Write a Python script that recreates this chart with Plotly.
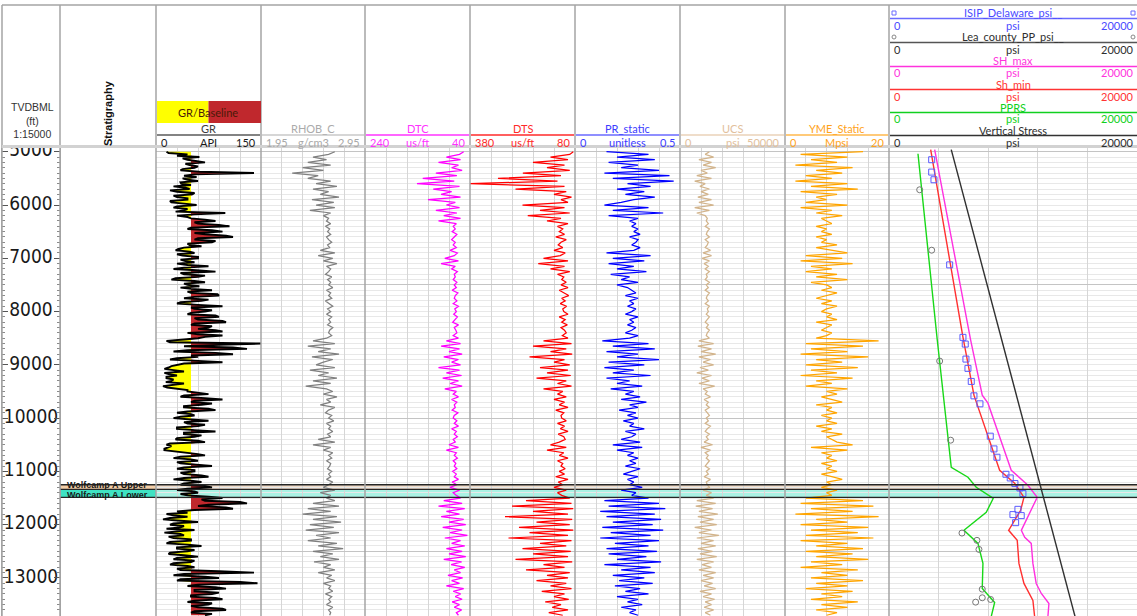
import plotly.graph_objects as go

W, H = 1137, 616
HEADER_BOTTOM = 148
DEPTH_RANGE = [13714, 4930]

# ---------------------------------------------------------------- log data
# sample depths of the log curves (ft, TVD below mean sea level)
depth = list(range(5000, 13701, 50))
# GR is carried at a finer step
depth_gr = list(range(5000, 13701, 25))

gr = [15, 18, 45, 30, 62, 38, 45, 58, 70, 42, 48, 60, 55, 38, 35, 62, 140, 55, 40, 58,
      38, 45, 60, 35, 36, 50, 25, 42, 48, 20, 30, 55, 52, 25, 30, 45, 45, 20, 22, 40,
      58, 30, 25, 45, 40, 28, 99, 55, 30, 45, 50, 70, 85, 55, 60, 90, 105, 50, 45, 80,
      95, 55, 70, 100, 110, 60, 55, 85, 80, 45, 48, 65, 40, 32, 28, 48, 55, 30, 38, 60,
      60, 35, 42, 55, 30, 45, 75, 40, 25, 58, 85, 35, 40, 70, 60, 28, 22, 55, 70, 40,
      45, 62, 35, 50, 80, 45, 50, 88, 90, 55, 40, 75, 65, 35, 30, 60, 95, 50, 55, 80,
      70, 50, 45, 85, 90, 55, 60, 95, 100, 55, 50, 80, 75, 60, 85, 95, 45, 60, 95, 70,
      60, 40, 15, 20, 150, 90, 40, 110, 130, 45, 25, 85, 110, 50, 60, 30, 20, 60, 95, 40,
      30, 22, 18, 12, 25, 40, 12, 18, 30, 15, 15, 25, 22, 14, 40, 20, 10, 16, 28, 45,
      45, 60, 75, 40, 35, 70, 95, 55, 50, 80, 65, 40, 40, 75, 85, 45, 30, 50, 55, 35,
      25, 50, 75, 40, 45, 70, 60, 30, 30, 55, 85, 40, 40, 65, 55, 30, 28, 60, 70, 20,
      15, 22, 18, 12, 12, 30, 45, 60, 70, 35, 25, 50, 60, 30, 35, 65, 80, 40, 30, 55,
      55, 35, 40, 65, 75, 40, 25, 50, 65, 40, 35, 70, 80, 45, 30, 55, 60, 35, 45, 75,
      95, 65, 70, 120, 130, 75, 60, 100, 110, 55, 30, 45, 15, 25, 45, 20, 10, 35, 60, 25,
      20, 40, 35, 15, 55, 30, 12, 35, 40, 18, 25, 50, 50, 20, 15, 45, 65, 30, 30, 55,
      45, 20, 18, 40, 60, 30, 25, 55, 50, 25, 20, 45, 55, 30, 35, 90, 140, 40, 25, 70,
      90, 35, 30, 120, 145, 60, 45, 85, 100, 55, 55, 90, 80, 50, 50, 85, 95, 55, 45, 80,
      75, 50, 60, 95, 100, 55, 50, 80, 70]
GR_BASELINE = 50

rhob = [2.66, 2.60, 2.45, 2.58, 2.40, 2.62, 2.35, 2.55, 2.25, 2.50,
        2.40, 2.62, 2.48, 2.68, 2.45, 2.60, 2.52, 2.70, 2.44, 2.65,
        2.48, 2.66, 2.42, 2.62, 2.55, 2.60, 2.58, 2.62, 2.57, 2.61,
        2.59, 2.62, 2.58, 2.60, 2.63, 2.59, 2.61, 2.52, 2.66, 2.50,
        2.64, 2.55, 2.68, 2.58, 2.62, 2.60, 2.57, 2.63, 2.59, 2.62,
        2.60, 2.64, 2.58, 2.62, 2.60, 2.63, 2.57, 2.61, 2.64, 2.59,
        2.62, 2.58, 2.63, 2.60, 2.62, 2.59, 2.64, 2.61, 2.60, 2.63,
        2.58, 2.45, 2.66, 2.40, 2.62, 2.50, 2.70, 2.44, 2.64, 2.55,
        2.48, 2.66, 2.42, 2.60, 2.50, 2.68, 2.45, 2.62, 2.38, 2.58,
        2.64, 2.55, 2.68, 2.58, 2.62, 2.52, 2.66, 2.60, 2.57, 2.63,
        2.60, 2.65, 2.58, 2.62, 2.60, 2.64, 2.59, 2.62, 2.50, 2.66,
        2.45, 2.62, 2.55, 2.64, 2.60, 2.63, 2.58, 2.62, 2.61, 2.59,
        2.63, 2.60, 2.62, 2.58, 2.64, 2.60, 2.55, 2.66, 2.52, 2.62,
        2.58, 2.66, 2.45, 2.70, 2.40, 2.62, 2.35, 2.68, 2.45, 2.72,
        2.42, 2.65, 2.38, 2.70, 2.48, 2.62, 2.40, 2.68, 2.50, 2.74,
        2.45, 2.64, 2.52, 2.70, 2.46, 2.62, 2.55, 2.66, 2.50, 2.63,
        2.58, 2.66, 2.55, 2.62, 2.60, 2.64, 2.57, 2.63, 2.60, 2.62,
        2.58, 2.64, 2.60, 2.62, 2.61]

dtc = [52, 60, 85, 58, 100, 62, 75, 55, 105, 65,
       130, 70, 141, 60, 110, 75, 95, 58, 120, 68,
       85, 60, 105, 65, 90, 58, 100, 66, 72, 68,
       74, 65, 70, 75, 68, 72, 66, 78, 64, 70,
       88, 62, 95, 68, 75, 64, 70, 68, 72, 65,
       70, 66, 74, 63, 68, 70, 65, 72, 62, 69,
       66, 71, 64, 68, 73, 62, 70, 67, 65, 72,
       62, 85, 58, 95, 60, 80, 55, 90, 62, 75,
       58, 100, 60, 85, 56, 92, 62, 78, 55, 88,
       66, 72, 62, 75, 65, 70, 68, 74, 63, 70,
       72, 65, 70, 62, 75, 66, 70, 64, 72, 68,
       80, 62, 85, 66, 70, 64, 72, 67, 70, 65,
       73, 66, 70, 62, 74, 65, 78, 60, 72, 66,
       58, 90, 55, 100, 50, 85, 60, 95, 52, 80,
       48, 92, 55, 78, 45, 88, 58, 75, 50, 85,
       55, 80, 48, 90, 56, 76, 50, 70, 58, 82,
       54, 75, 60, 85, 52, 72, 58, 68, 55, 74,
       60, 70, 56, 66, 62]

dts = [85, 95, 150, 100, 200, 110, 160, 95, 229, 120,
       300, 130, 380, 110, 250, 105, 140, 90, 120, 100,
       230, 110, 180, 95, 215, 120, 160, 100, 130, 115,
       125, 110, 135, 105, 120, 128, 115, 140, 108, 122,
       170, 100, 185, 110, 150, 95, 130, 112, 118, 105,
       120, 100, 125, 110, 98, 118, 108, 122, 104, 115,
       112, 100, 125, 108, 118, 102, 120, 110, 105, 116,
       100, 170, 90, 200, 105, 150, 88, 210, 110, 140,
       95, 180, 100, 160, 92, 190, 105, 130, 90, 170,
       115, 130, 105, 140, 110, 125, 100, 135, 112, 120,
       118, 105, 130, 110, 122, 100, 128, 112, 108, 125,
       150, 105, 160, 112, 125, 100, 130, 115, 120, 108,
       125, 110, 135, 100, 128, 115, 140, 105, 130, 118,
       95, 220, 90, 260, 85, 200, 100, 280, 88, 190,
       95, 240, 85, 210, 100, 270, 90, 180, 105, 230,
       92, 200, 100, 250, 88, 170, 110, 220, 95, 160,
       100, 190, 105, 150, 90, 175, 110, 140, 98, 165,
       120, 145, 100, 155, 115]

pr_static = [0.15, 0.35, 0.20, 0.38, 0.16, 0.30, 0.22, 0.40, 0.14, 0.45,
             0.18, 0.47, 0.25, 0.36, 0.20, 0.33, 0.24, 0.38, 0.28, 0.22,
             0.14, 0.35, 0.18, 0.42, 0.16, 0.30, 0.26, 0.29, 0.27, 0.30,
             0.28, 0.31, 0.26, 0.30, 0.29, 0.27, 0.31, 0.28, 0.15, 0.36,
             0.18, 0.33, 0.16, 0.28, 0.20, 0.34, 0.17, 0.26, 0.22, 0.30,
             0.20, 0.25, 0.27, 0.29, 0.24, 0.30, 0.26, 0.28, 0.25, 0.29,
             0.27, 0.24, 0.30, 0.26, 0.28, 0.25, 0.29, 0.27, 0.24, 0.30,
             0.26, 0.13, 0.35, 0.18, 0.38, 0.15, 0.30, 0.20, 0.40, 0.16,
             0.33, 0.14, 0.28, 0.18, 0.36, 0.15, 0.26, 0.20, 0.32, 0.17,
             0.28, 0.24, 0.31, 0.22, 0.34, 0.26, 0.30, 0.21, 0.29, 0.25,
             0.30, 0.23, 0.28, 0.26, 0.33, 0.24, 0.29, 0.27, 0.22, 0.31,
             0.18, 0.32, 0.20, 0.28, 0.25, 0.30, 0.26, 0.29, 0.24, 0.31,
             0.27, 0.23, 0.30, 0.25, 0.28, 0.26, 0.32, 0.22, 0.29, 0.27,
             0.35, 0.14, 0.40, 0.16, 0.43, 0.12, 0.38, 0.15, 0.41, 0.18,
             0.37, 0.13, 0.42, 0.17, 0.36, 0.12, 0.40, 0.19, 0.35, 0.15,
             0.39, 0.16, 0.34, 0.20, 0.41, 0.14, 0.36, 0.22, 0.38, 0.18,
             0.33, 0.21, 0.37, 0.19, 0.31, 0.24, 0.35, 0.20, 0.30, 0.25,
             0.32, 0.22, 0.29, 0.26, 0.30]

ucs = [14000, 12000, 16000, 9000, 15000, 11000, 17000, 10000, 13000, 8000,
       15000, 7000, 12000, 9500, 14000, 10000, 13500, 8500, 15000, 9000,
       16000, 7000, 14000, 8000, 12000, 13000, 12500, 13500, 12000, 14000,
       13000, 12500, 14000, 12000, 13500, 13000, 12000, 14500, 11000, 15000,
       10500, 14000, 11500, 13500, 12000, 14000, 12500, 13000, 12000, 14000,
       12500, 13500, 12000, 14000, 13000, 12500, 13500, 12000, 14000, 13000,
       13500, 12500, 14000, 13000, 12000, 13500, 12500, 14000, 13000, 12500,
       14000, 9000, 16000, 8500, 15000, 10000, 17000, 9000, 14500, 11000,
       16000, 9500, 13500, 8000, 15000, 10500, 14000, 9000, 16500, 11000,
       13000, 12000, 14500, 11500, 13500, 12500, 14000, 12000, 13000, 14000,
       12500, 13500, 12000, 14500, 13000, 12000, 14000, 12500, 13500, 11500,
       15500, 10000, 14500, 12000, 13500, 12500, 14000, 13000, 12000, 14000,
       12500, 13500, 11500, 14500, 12500, 13000, 14000, 11000, 15000, 12500,
       16000, 8000, 17000, 7500, 15500, 9000, 18000, 8500, 16000, 9500,
       17500, 7000, 15000, 9000, 18500, 8000, 16000, 10000, 17000, 8500,
       15500, 9500, 17500, 8000, 16000, 10500, 15000, 9000, 17000, 11000,
       16000, 10000, 15500, 11500, 17000, 9500, 15000, 11000, 16500, 12000,
       15000, 11500, 16000, 12000, 14500]

yme_static = [15, 3, 12, 5, 10, 2, 13, 6, 11, 4,
              9, 2, 12, 5, 14, 3, 10, 6, 8, 4,
              12, 3, 9, 6, 11, 7, 8, 9, 6, 8,
              7, 9, 6, 8, 7, 10, 6, 9, 12, 4,
              11, 3, 13, 5, 9, 4, 10, 6, 12, 5,
              8, 9, 7, 10, 8, 6, 9, 7, 10, 8,
              7, 9, 8, 10, 6, 9, 8, 7, 9, 8,
              6, 18, 4, 15, 5, 12, 3, 16, 6, 11,
              4, 14, 5, 10, 3, 13, 6, 9, 4, 12,
              8, 10, 7, 9, 11, 6, 9, 8, 10, 7,
              9, 8, 10, 6, 9, 7, 11, 8, 9, 10,
              13, 5, 12, 7, 9, 8, 10, 7, 9, 8,
              10, 7, 9, 11, 8, 9, 7, 10, 8, 9,
              4, 15, 3, 17, 5, 13, 2, 18, 6, 12,
              3, 16, 5, 14, 4, 17, 3, 12, 6, 15,
              4, 13, 6, 16, 5, 11, 3, 14, 7, 12,
              5, 15, 6, 12, 4, 13, 7, 11, 5, 14,
              7, 12, 6, 10, 8]

# ---------------------------------------------------------------- stress profiles (ft, psi)
shmax_depth = [4962, 8534, 9568, 9719, 10978, 11260, 11486, 11730, 12106, 12238,
               12351, 12727, 13103, 13291, 13479, 13723]
shmax_psi = [3683, 6585, 7520, 7980, 9858, 11204, 11953, 11470, 10671, 10945,
             11470, 11606, 11872, 12284, 12896, 12815]

shmin_depth = [4962, 8478, 9568, 10978, 11222, 11486, 11730, 12106, 12294, 12727,
               13103, 13422, 13723]
shmin_psi = [3361, 5964, 6851, 8923, 10132, 10882, 10616, 9648, 10342, 10479,
             10882, 11606, 11743]

pprs_depth = [5038, 8534, 10922, 11110, 11298, 11505, 11768, 12106, 12351, 12727,
              13197, 13460, 13723]
pprs_psi = [2337, 3893, 5021, 6367, 7036, 8407, 7843, 6045, 7173, 7576,
            7520, 8520, 8246]

sv_depth = [4960, 13720]
sv_psi = [5020, 15000]

isip_depth = [5150, 5382, 5526, 7124, 8484, 8610, 8892, 9066, 9311, 9582,
              9732, 10339, 10578, 10734, 11054, 11123, 11228, 11311, 11416, 11712,
              11811, 11830, 11962]
isip_psi = [3442, 3442, 3627, 4892, 5964, 6150, 6206, 6367, 6633, 6851,
            7335, 8165, 8463, 8705, 9430, 9777, 10156, 10559, 10800, 10397,
            9994, 10663, 10212]

lea_depth = [5714, 6848, 8929, 10414, 12157, 12294, 12464, 13210, 13372, 13454, 13404]
lea_psi = [2474, 3442, 4086, 4973, 5884, 7093, 7254, 7520, 7520, 6988, 8197]

# ---------------------------------------------------------------- formations
formation_names = ["Wolfcamp A Upper", "Wolfcamp A Lower"]
formation_tops = [11251, 11336]
formation_bases = [11336, 11486]

depth_labels = [5000, 6000, 7000, 8000, 9000, 10000, 11000, 12000, 13000]

# ---------------------------------------------------------------- helpers
HEAD_FONT = "Lato, Liberation Sans, sans-serif"
PLAIN_FONT = "Liberation Sans, Arial, sans-serif"


def px(x):
    return x / W


def py(y):
    return 1 - y / H


def depth_at(y):
    """Depth (ft) that sits at a given pixel row of the log area."""
    return DEPTH_RANGE[1] + (y - HEADER_BOTTOM) * (DEPTH_RANGE[0] - DEPTH_RANGE[1]) / (H - HEADER_BOTTOM)


Y_DOMAIN = [0, py(HEADER_BOTTOM)]
shapes = []
annotations = []


def text(x, y, s, color, size=11, xanchor="center", bold=False, family=HEAD_FONT, angle=0):
    if bold:
        s = f"<b>{s}</b>"
    annotations.append(dict(x=px(x), y=py(y), xref="paper", yref="paper", text=s,
                            showarrow=False, xanchor=xanchor, yanchor="middle",
                            textangle=angle, borderpad=0,
                            font=dict(color=color, size=size, family=family)))


def hline(x0, x1, y, color, width=1.0):
    shapes.append(dict(type="line", xref="paper", yref="paper", x0=px(x0), x1=px(x1),
                       y0=py(y), y1=py(y), line=dict(color=color, width=width)))


def vline(x, y0, y1, color, width=1.0):
    shapes.append(dict(type="line", xref="paper", yref="paper", x0=px(x), x1=px(x),
                       y0=py(y0), y1=py(y1), line=dict(color=color, width=width)))


def box(x0, y0, x1, y1, fill):
    shapes.append(dict(type="rect", xref="paper", yref="paper", x0=px(x0), x1=px(x1),
                       y0=py(y1), y1=py(y0), fillcolor=fill, line=dict(width=0)))


fig = go.Figure()

# ---------------------------------------------------------------- axes
layout_axes = {}
layout_axes["xaxis"] = dict(domain=[px(2), px(60)], range=[0, 1], anchor="y2",
                            showgrid=False, zeroline=False, showticklabels=False, ticks="")
layout_axes["xaxis2"] = dict(domain=[px(60), px(156)], range=[0, 1], anchor="y2",
                             showgrid=False, zeroline=False, showticklabels=False, ticks="")

tracks = [
    ("x3", 156, 261, [0, 150], 30, 0),
    ("x4", 261, 365, [1.95, 2.95], 0.2, 1.95),
    ("x5", 365, 470, [240, 40], 40, 40),
    ("x6", 470, 575, [380, 80], 60, 80),
    ("x7", 575, 680, [0, 0.5], 0.1, 0),
    ("x8", 680, 785, [0, 50000], 10000, 0),
    ("x9", 785, 889, [0, 20], 4, 0),
    ("x10", 889, 1137, [0, 20000], 4000, 0),
]
for ax, x0, x1, rng, dt, t0 in tracks:
    layout_axes["xaxis" + ax[1:]] = dict(
        domain=[px(x0), px(x1)], range=rng, anchor="y", dtick=dt, tick0=t0,
        showgrid=True, gridcolor="#D6D6D6", gridwidth=1, zeroline=False,
        showticklabels=False, ticks="", fixedrange=True)

layout_axes["yaxis"] = dict(
    domain=Y_DOMAIN, range=DEPTH_RANGE, anchor="x3", showgrid=True, gridcolor="#C4C4C4",
    dtick=2500, tick0=0, zeroline=False, showticklabels=False, ticks="",
    minor=dict(dtick=100, showgrid=True, gridcolor="#E8E8E8", gridwidth=1))
layout_axes["yaxis2"] = dict(
    domain=Y_DOMAIN, matches="y", anchor="x", showgrid=False, zeroline=False,
    showticklabels=False, ticks="inside", ticklen=6, tickcolor="#555555", dtick=1000,
    tick0=0, mirror="ticks", showline=True, linecolor="#A0A0A0", linewidth=1,
    minor=dict(ticks="inside", ticklen=3, dtick=100, tickcolor="#8A8A8A", showgrid=False))

# ---------------------------------------------------------------- depth labels
fig.add_trace(go.Scatter(x=[0.5] * len(depth_labels), y=depth_labels,
                         text=[str(d) for d in depth_labels], mode="text",
                         textfont=dict(size=19, color="#1A1A1A",
                                       family="Liberation Sans Narrow, DejaVu Sans Condensed, sans-serif"),
                         xaxis="x", yaxis="y2", hoverinfo="skip", showlegend=False))

# ---------------------------------------------------------------- GR with baseline fill
gr_low = [min(v, GR_BASELINE) for v in gr]
gr_high = [max(v, GR_BASELINE) for v in gr]
base = [GR_BASELINE] * len(depth_gr)
fig.add_trace(go.Scatter(x=base, y=depth_gr, mode="lines", line=dict(width=0),
                         xaxis="x3", yaxis="y", hoverinfo="skip", showlegend=False))
fig.add_trace(go.Scatter(x=gr_low, y=depth_gr, mode="lines", line=dict(width=0),
                         fill="tonextx", fillcolor="#FFFF00",
                         xaxis="x3", yaxis="y", hoverinfo="skip", showlegend=False))
fig.add_trace(go.Scatter(x=base, y=depth_gr, mode="lines", line=dict(width=0),
                         xaxis="x3", yaxis="y", hoverinfo="skip", showlegend=False))
fig.add_trace(go.Scatter(x=gr_high, y=depth_gr, mode="lines", line=dict(width=0),
                         fill="tonextx", fillcolor="#C0282D",
                         xaxis="x3", yaxis="y", hoverinfo="skip", showlegend=False))
fig.add_trace(go.Scatter(x=gr, y=depth_gr, mode="lines", line=dict(color="#000000", width=1.9),
                         xaxis="x3", yaxis="y", showlegend=False))

log_curves = [
    ("x4", rhob, "#808080"),
    ("x5", dtc, "#FF00FF"),
    ("x6", dts, "#FF0000"),
    ("x7", pr_static, "#0000FF"),
    ("x8", ucs, "#D2B48C"),
    ("x9", yme_static, "#FFA500"),
]
for ax, vals, color in log_curves:
    fig.add_trace(go.Scatter(x=vals, y=depth, mode="lines", line=dict(color=color, width=1.25),
                             xaxis=ax, yaxis="y", showlegend=False))

# ---------------------------------------------------------------- stress track
stress_lines = [
    (pprs_depth, pprs_psi, "#18D818"),
    (shmin_depth, shmin_psi, "#FF3030"),
    (shmax_depth, shmax_psi, "#FF30E0"),
    (sv_depth, sv_psi, "#303030"),
]
for d, p, color in stress_lines:
    fig.add_trace(go.Scatter(x=p, y=d, mode="lines", line=dict(color=color, width=1.4),
                             xaxis="x10", yaxis="y", showlegend=False))
fig.add_trace(go.Scatter(x=isip_psi, y=isip_depth, mode="markers",
                         marker=dict(symbol="square-open", size=6, color="#5A5AFF",
                                     line=dict(width=1)),
                         xaxis="x10", yaxis="y", showlegend=False))
fig.add_trace(go.Scatter(x=lea_psi, y=lea_depth, mode="markers",
                         marker=dict(symbol="circle-open", size=6, color="#777777",
                                     line=dict(width=1)),
                         xaxis="x10", yaxis="y", showlegend=False))

# ---------------------------------------------------------------- formation bands
strong = ["#F4CFA8", "#3FE3C3"]
light = ["#F1DDCB", "#AAF2E4"]
for name, top, bot, c1, c2 in zip(formation_names, formation_tops, formation_bases, strong, light):
    shapes.append(dict(type="rect", xref="paper", yref="y", x0=px(60), x1=px(156),
                       y0=top, y1=bot, fillcolor=c1, line=dict(width=0), layer="below"))
    shapes.append(dict(type="rect", xref="paper", yref="y", x0=px(156), x1=px(1137),
                       y0=top, y1=bot, fillcolor=c2, line=dict(width=0), layer="below"))
for d in sorted(set(formation_tops + formation_bases)):
    shapes.append(dict(type="line", xref="paper", yref="y", x0=px(60), x1=px(1137),
                       y0=d, y1=d, line=dict(color="#262626", width=1.3)))
# names sit at the top of their band (pixel rows of the label centres)
for name, label_row in zip(formation_names, [485.0, 494.5]):
    annotations.append(dict(x=px(66), y=depth_at(label_row), xref="paper", yref="y",
                            text=f"<b>{name}</b>", showarrow=False, xanchor="left",
                            yanchor="middle", borderpad=0,
                            font=dict(size=9, color="#1A1A1A", family=PLAIN_FONT)))

# ---------------------------------------------------------------- frame and header
GRID_DARK = "#A4A4A4"
hline(2, 1137, 5, GRID_DARK, 1.5)
vline(2, 5, 616, GRID_DARK, 1.5)
for x in [60, 156, 261, 365, 470, 575, 680, 785, 889]:
    vline(x, 5, 616, GRID_DARK, 1.5)
hline(2, 1137, 146.5, "#D2D2D2", 3)

# depth track and stratigraphy titles
text(32, 121, "TVDBML<br>(ft)<br>1:15000", "#333333", 10.5, family=PLAIN_FONT)
text(108, 113, "Stratigraphy", "#111111", 11, bold=True, angle=-90, family=PLAIN_FONT)

# GR/Baseline fill legend
box(157, 101, 208.5, 123, "#FFFF00")
box(208.5, 101, 261, 123, "#C0282D")
text(208, 112.5, "GR/Baseline", "#4A1A08", 11)

track_headers = [
    (156, 261, "GR", "#3C3C3C", "#5A5A5A", "#1A1A1A", "0", "API", "150"),
    (261, 365, "RHOB_C", "#ABABAB", "#C8C8C8", "#A8A8A8", "1.95", "g/cm3", "2.95"),
    (365, 470, "DTC", "#FF33FF", "#FF33FF", "#FF33FF", "240", "us/ft", "40"),
    (470, 575, "DTS", "#FF2A2A", "#FF2A2A", "#FF2A2A", "380", "us/ft", "80"),
    (575, 680, "PR_static", "#3C3CFF", "#6A6AFF", "#3C3CFF", "0", "unitless", "0.5"),
    (680, 785, "UCS", "#E2C09C", "#EAD2B8", "#E2C09C", "0", "psi", "50000"),
    (785, 889, "YME_Static", "#FFA31A", "#FFB84D", "#FFA31A", "0", "Mpsi", "20"),
]
for x0, x1, name, c_name, c_line, c_scale, lo, unit, hi in track_headers:
    text((x0 + x1) / 2, 129, name, c_name, 11)
    hline(x0 + 1, x1 - 1, 135, c_line, 1.5)
    text(x0 + 4, 142, lo, c_scale, 11, xanchor="left")
    text((x0 + x1) / 2, 142, unit, c_scale, 11)
    text(x1 - 4, 142, hi, c_scale, 11, xanchor="right")

stress_headers = [
    ("ISIP_Delaware_psi__", "#4A4AFF", "#6A6AFF", 13, "square"),
    ("Lea_county_PP_psi__", "#2E2E2E", "#555555", 37, "circle"),
    ("SH_max", "#FF33DD", "#FF33DD", 61, None),
    ("Sh_min", "#FF3333", "#FF3333", 84, None),
    ("PPRS", "#10D020", "#10D020", 107, None),
    ("Vertical Stress", "#2E2E2E", "#333333", 130, None),
]
for name, c_text, c_line, y, sym in stress_headers:
    text(1013, y, name, c_text, 11)
    hline(890, 1137, y + 5.5, c_line, 1.5)
    text(893, y + 12, "0", c_text, 11, xanchor="left")
    text(1013, y + 12, "psi", c_text, 11)
    text(1135, y + 12, "20000", c_text, 11, xanchor="right")
    for sx in (894, 1133):
        if sym:
            shapes.append(dict(type="rect" if sym == "square" else "circle",
                               xref="paper", yref="paper",
                               x0=px(sx - 2), x1=px(sx + 2), y0=py(y + 2), y1=py(y - 2),
                               line=dict(color=c_line if sym == "square" else "#888888",
                                         width=1)))

fig.update_layout(
    width=W, height=H, autosize=False,
    margin=dict(l=0, r=0, t=0, b=0, pad=0),
    paper_bgcolor="#FFFFFF", plot_bgcolor="rgba(0,0,0,0)",
    showlegend=False, shapes=shapes, annotations=annotations,
    **layout_axes,
)

fig.write_html("out.html")
